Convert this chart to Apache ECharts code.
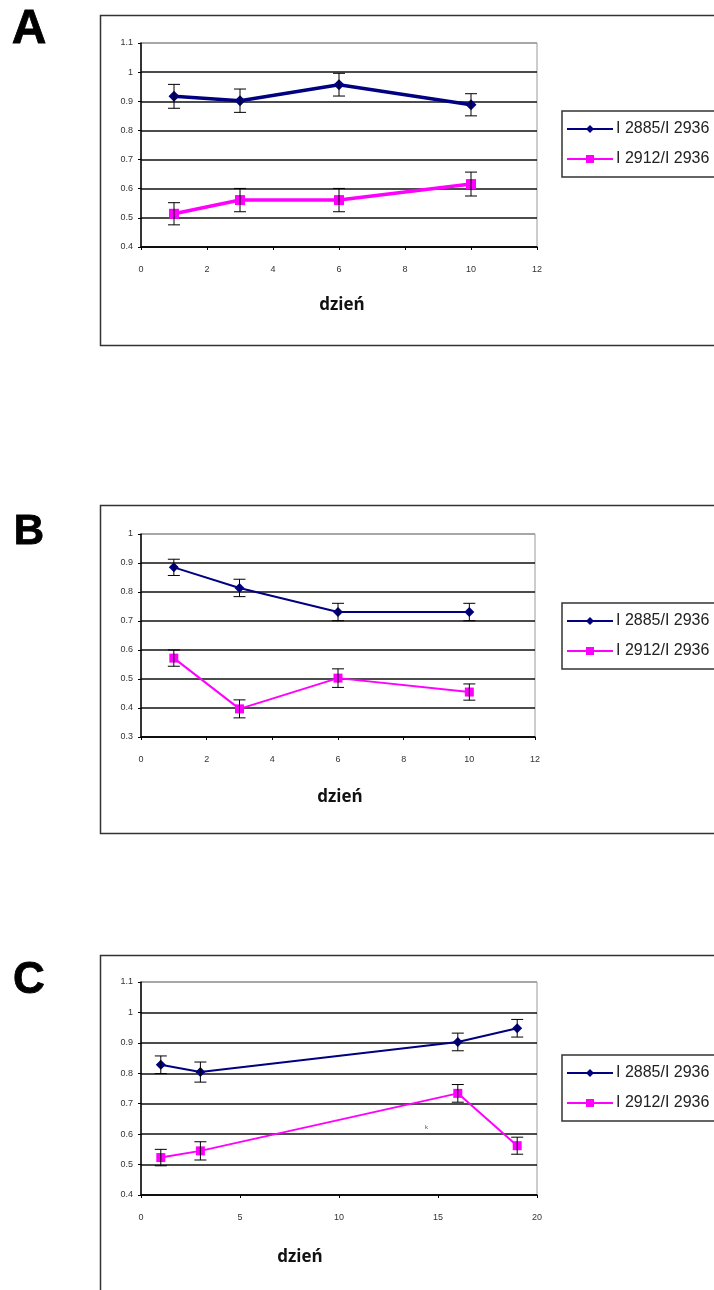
<!DOCTYPE html>
<html>
<head>
<meta charset="utf-8">
<script src="https://cdn.jsdelivr.net/npm/echarts@6/dist/echarts.min.js"></script>
<style>
  html, body { margin: 0; padding: 0; background: #fff; }
  #chart { width: 714px; height: 1290px; }
</style>
</head>
<body>
<div id="chart"></div>
<script>
// Ratio names shown in the legends
const seriesNames = ['I 2885/I 2936', 'I 2912/I 2936'];

// Panel A (days 1-10)
const daysA = [1, 3, 6, 10];
const a2885 = [0.917, 0.902, 0.957, 0.888];
const a2885Err = [0.041, 0.040, 0.039, 0.038];
const a2912 = [0.514, 0.561, 0.561, 0.616];
const a2912Err = [0.038, 0.040, 0.040, 0.041];

// Panel B (days 1-10)
const daysB = [1, 3, 6, 10];
const b2885 = [0.885, 0.814, 0.731, 0.731];
const b2885Err = [0.028, 0.030, 0.030, 0.030];
const b2912 = [0.572, 0.397, 0.503, 0.455];
const b2912Err = [0.028, 0.031, 0.032, 0.028];

// Panel C (days 1-19)
const daysC = [1, 3, 16, 19];
const c2885 = [0.828, 0.804, 0.903, 0.948];
const c2885Err = [0.029, 0.033, 0.029, 0.029];
const c2912 = [0.523, 0.545, 0.734, 0.562];
const c2912Err = [0.027, 0.030, 0.029, 0.028];

// Axis ranges per panel
const xRanges = [[0, 12, 2], [0, 12, 2], [0, 20, 5]];
const yRanges = [[0.4, 1.1], [0.3, 1.0], [0.4, 1.1]];

const panelLetters = ['A', 'B', 'C'];
const xAxisTitle = 'dzień';

const NAVY = '#000080';
const MAGENTA = '#ff00ff';

const chart = echarts.init(document.getElementById('chart'), null, { renderer: 'canvas' });

const grids = [
  { left: 141, top: 43, width: 396, height: 204 },
  { left: 141, top: 534, width: 394, height: 203 },
  { left: 141, top: 982, width: 396, height: 213 }
];

const panels = [
  { days: daysA, s1: a2885, e1: a2885Err, s2: a2912, e2: a2912Err, lw: 3.5, sym: 11 },
  { days: daysB, s1: b2885, e1: b2885Err, s2: b2912, e2: b2912Err, lw: 2, sym: 10 },
  { days: daysC, s1: c2885, e1: c2885Err, s2: c2912, e2: c2912Err, lw: 2, sym: 10 }
];

const labelStyle = { color: '#333', fontSize: 9, fontFamily: 'Arial, "Liberation Sans", sans-serif' };

function splitColors(yr) {
  const n = Math.round((yr[1] - yr[0]) * 10) + 1;
  const arr = [];
  for (let i = 0; i < n; i++) arr.push(i === n - 1 ? '#9a9a9a' : '#111');
  return arr;
}

const xAxes = xRanges.map((r, i) => ({
  type: 'value', gridIndex: i, min: r[0], max: r[1], interval: r[2],
  axisLine: { show: true, onZero: false, lineStyle: { color: '#000', width: 1.5 } },
  axisTick: { show: true, length: 3, lineStyle: { color: '#000' } },
  axisLabel: Object.assign({ margin: 18 }, labelStyle),
  splitLine: { show: false }
}));

const yAxes = yRanges.map((r, i) => ({
  type: 'value', gridIndex: i, min: r[0], max: r[1], interval: 0.1,
  axisLine: { show: true, lineStyle: { color: '#000', width: 1.5 } },
  axisTick: { show: true, length: 3, lineStyle: { color: '#000' } },
  axisLabel: Object.assign({ margin: 8, formatter: v => String(+v.toFixed(1)) }, labelStyle),
  splitLine: { show: true, lineStyle: { color: splitColors(r), width: 1.5 } }
}));

function errorBarSeries(i, days, vals, errs) {
  return {
    type: 'custom', xAxisIndex: i, yAxisIndex: i, z: 5, silent: true,
    data: days.map((d, k) => [d, vals[k], errs[k]]),
    renderItem: function (params, api) {
      const x = api.value(0), m = api.value(1), e = api.value(2);
      const hi = api.coord([x, m + e]);
      const lo = api.coord([x, m - e]);
      const hw = 6;
      const st = { stroke: '#000', lineWidth: 1 };
      return {
        type: 'group',
        children: [
          { type: 'line', shape: { x1: hi[0], y1: hi[1], x2: lo[0], y2: lo[1] }, style: st },
          { type: 'line', shape: { x1: hi[0] - hw, y1: hi[1], x2: hi[0] + hw, y2: hi[1] }, style: st },
          { type: 'line', shape: { x1: lo[0] - hw, y1: lo[1], x2: lo[0] + hw, y2: lo[1] }, style: st }
        ]
      };
    }
  };
}

const series = [];
panels.forEach((p, i) => {
  series.push({
    name: seriesNames[0], type: 'line', xAxisIndex: i, yAxisIndex: i, z: 3,
    data: p.days.map((d, k) => [d, p.s1[k]]),
    symbol: 'diamond', symbolSize: p.sym,
    lineStyle: { color: NAVY, width: p.lw },
    itemStyle: { color: NAVY }
  });
  series.push({
    name: seriesNames[1], type: 'line', xAxisIndex: i, yAxisIndex: i, z: 3,
    data: p.days.map((d, k) => [d, p.s2[k]]),
    symbol: 'rect', symbolSize: p.sym - 1,
    lineStyle: { color: MAGENTA, width: p.lw },
    itemStyle: { color: MAGENTA }
  });
  series.push(errorBarSeries(i, p.days, p.s1, p.e1));
  series.push(errorBarSeries(i, p.days, p.s2, p.e2));
});

const legendTops = [111, 603, 1055];
const legends = legendTops.map(t => ({
  show: true, orient: 'vertical', left: 562, top: t,
  data: seriesNames,
  itemWidth: 46, itemHeight: 10, itemGap: 14,
  padding: [10, 30, 10, 4],
  borderColor: '#333', borderWidth: 1.5,
  textStyle: { color: '#222', fontSize: 16, fontFamily: 'Arial, "Liberation Sans", sans-serif', padding: [0, 0, 0, -2] },
  selectedMode: false
}));

// Outer frames, panel letters and x-axis titles
const frames = [
  { y: 15, h: 330 },
  { y: 505, h: 328 },
  { y: 955, h: 400 }
];
// letter centre x, centre y, font size
const letterPos = [[29, 30, 48], [29, 532, 42], [29, 981, 44]];
const titlePos = [[342, 305], [340, 797], [300, 1257]];

const graphics = [];
frames.forEach(f => {
  graphics.push({
    type: 'rect', z: -1, silent: true,
    shape: { x: 100.5, y: f.y + 0.5, width: 700, height: f.h },
    style: { fill: 'none', stroke: '#333', lineWidth: 1.5 }
  });
});
panelLetters.forEach((L, i) => {
  const lp = letterPos[i];
  graphics.push({
    type: 'text', x: lp[0], y: lp[1],
    style: {
      text: L, font: 'bold ' + lp[2] + 'px Arial, "Liberation Sans", sans-serif',
      fill: '#000', stroke: '#000', lineWidth: 0.8, align: 'center', verticalAlign: 'middle'
    }
  });
  graphics.push({
    type: 'text', x: titlePos[i][0], y: titlePos[i][1],
    style: { text: xAxisTitle, font: 'bold 17px "Open Sans", "DejaVu Sans", sans-serif', fill: '#111', align: 'center', verticalAlign: 'middle' }
  });
});
// small stray mark inside panel C
graphics.push({
  type: 'text', x: 425, y: 1124,
  style: { text: 'k', font: '6px Arial, sans-serif', fill: '#555' }
});

chart.setOption({
  animation: false,
  backgroundColor: '#fff',
  grid: grids.map(g => Object.assign({ show: true, borderColor: '#9a9a9a', borderWidth: 1, backgroundColor: 'transparent' }, g)),
  xAxis: xAxes,
  yAxis: yAxes,
  legend: legends,
  series: series,
  graphic: graphics
});
</script>
</body>
</html>
